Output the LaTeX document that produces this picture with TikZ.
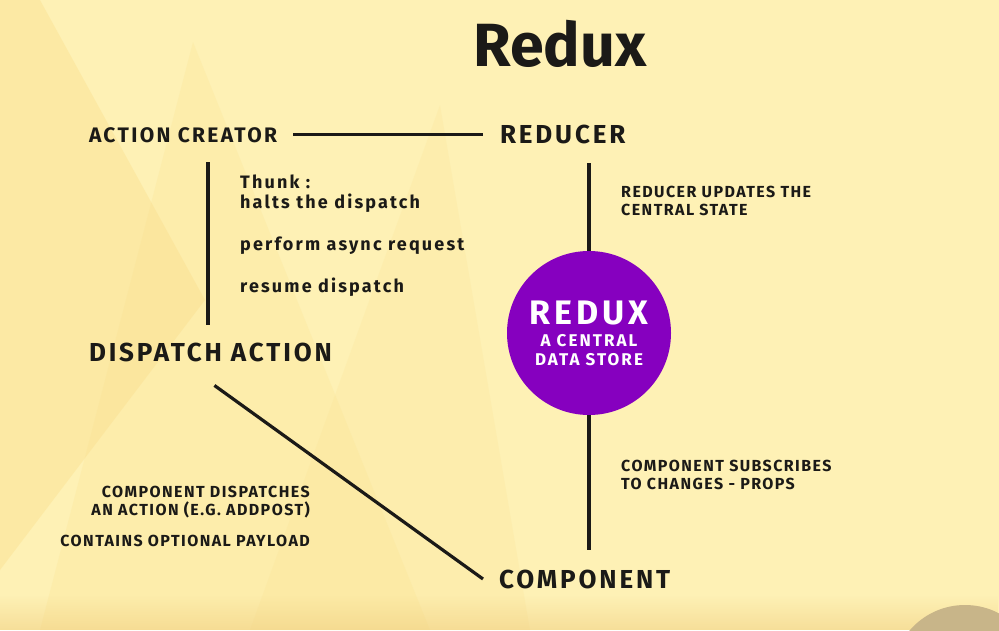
\documentclass[tikz,border=0pt]{standalone}
\usepackage{fontspec}
\setmainfont{Fira Sans}
\newfontfamily\wide{Fira Sans}[LetterSpace=11]
\newfontfamily\notefont{Fira Sans}[LetterSpace=9]
\newfontfamily\storefont{Fira Sans}[LetterSpace=12]
\usetikzlibrary{fadings}

\definecolor{bgyellow}{HTML}{FEF1B5}
\definecolor{hill}{HTML}{FBDF8C}
\definecolor{reduxpurple}{HTML}{8600BF}
\definecolor{stone}{HTML}{C8B589}
\definecolor{ink}{HTML}{1B1A17}

\tikzset{
  step label/.style={font=\wide\bfseries\fontsize{26}{30}\selectfont, text=ink, inner sep=0pt, outer sep=0pt},
  note/.style={font=\notefont\bfseries\fontsize{16}{18}\selectfont, text=ink, inner sep=0pt},
  thunk/.style={font=\storefont\bfseries\fontsize{18}{20}\selectfont, text=ink, inner sep=0pt},
  link/.style={line width=3.2pt, ink}
}

\begin{document}
\begin{tikzpicture}[x=1pt,y=-1pt]
  \useasboundingbox (0,0) rectangle (999,630);
  % background and hills
  \begin{scope}
    \clip (0,0) rectangle (999,630);
    \fill[bgyellow] (0,0) rectangle (999,630);
    \fill[hill, fill opacity=0.4] (0,0) -- (40,0) -- (205,300) -- (0,570) -- cycle;
    \fill[hill, fill opacity=0.22] (40,630) -- (193,42) -- (430,630) -- cycle;
    \fill[hill, fill opacity=0.18] (250,630) -- (440,105) -- (530,630) -- cycle;
    \fill[hill!80!brown, path fading=north, fill opacity=0.5] (0,595) rectangle (999,630);
    \fill[stone] (965,678) circle (73);
  \end{scope}

  \node[font=\bfseries\fontsize{61}{66}\selectfont, text=ink, anchor=base] (title) at (560,66) {Redux};

  % the four steps
  \node[step label, font=\wide\bfseries\fontsize{21}{24}\selectfont, anchor=base west] (creator) at (89,142) {ACTION CREATOR};
  \node[step label, anchor=base west] (reducer) at (500,143) {REDUCER};
  \node[step label, anchor=base west] (dispatch) at (89,361) {DISPATCH ACTION};
  \node[step label, anchor=base west] (component) at (499,588) {COMPONENT};

  % the store
  \node[circle, fill=reduxpurple, minimum size=164pt, inner sep=0pt, text=white, align=center,
        font=\storefont\bfseries\fontsize{17}{19}\selectfont] (store) at (589,333)
        {{\fontsize{34}{34}\selectfont REDUX}\\[3pt] A CENTRAL\\ DATA STORE};

  % notes
  \node[thunk, align=left, anchor=base west] (halts) at (240,208) {Thunk :\\halts the dispatch};
  \node[thunk, anchor=base west] (async) at (240,250) {perform async request};
  \node[thunk, anchor=base west] (resume) at (240,292) {resume dispatch};
  \node[note, align=left, anchor=base west] (updates) at (621,215) {REDUCER UPDATES THE\\CENTRAL STATE};
  \node[note, align=left, anchor=base west] (subscribes) at (621,489) {COMPONENT SUBSCRIBES\\TO CHANGES - PROPS};
  \node[note, align=right, anchor=base east] (dispatches) at (310,515) {COMPONENT DISPATCHES\\AN ACTION (E.G. ADDPOST)};
  \node[note, anchor=base east] (payload) at (310,546) {CONTAINS OPTIONAL PAYLOAD};

  % connectors
  \draw[link, shorten <=16pt, shorten >=17pt] (creator.east -| creator.east) -- (creator.east -| reducer.west);
  \draw[link, shorten <=20pt, shorten >=18pt] (creator.south -| 208,0) -- (dispatch.north -| 208,0);
  \draw[link, shorten <=20pt] (reducer.south -| store.north) -- (store.north);
  \draw[link, shorten >=20pt] (store.south) -- (component.north -| store.south);
  \draw[link] ([xshift=4pt,yshift=-24pt]dispatch.south) -- ([xshift=-16pt]component.west);
\end{tikzpicture}
\end{document}
